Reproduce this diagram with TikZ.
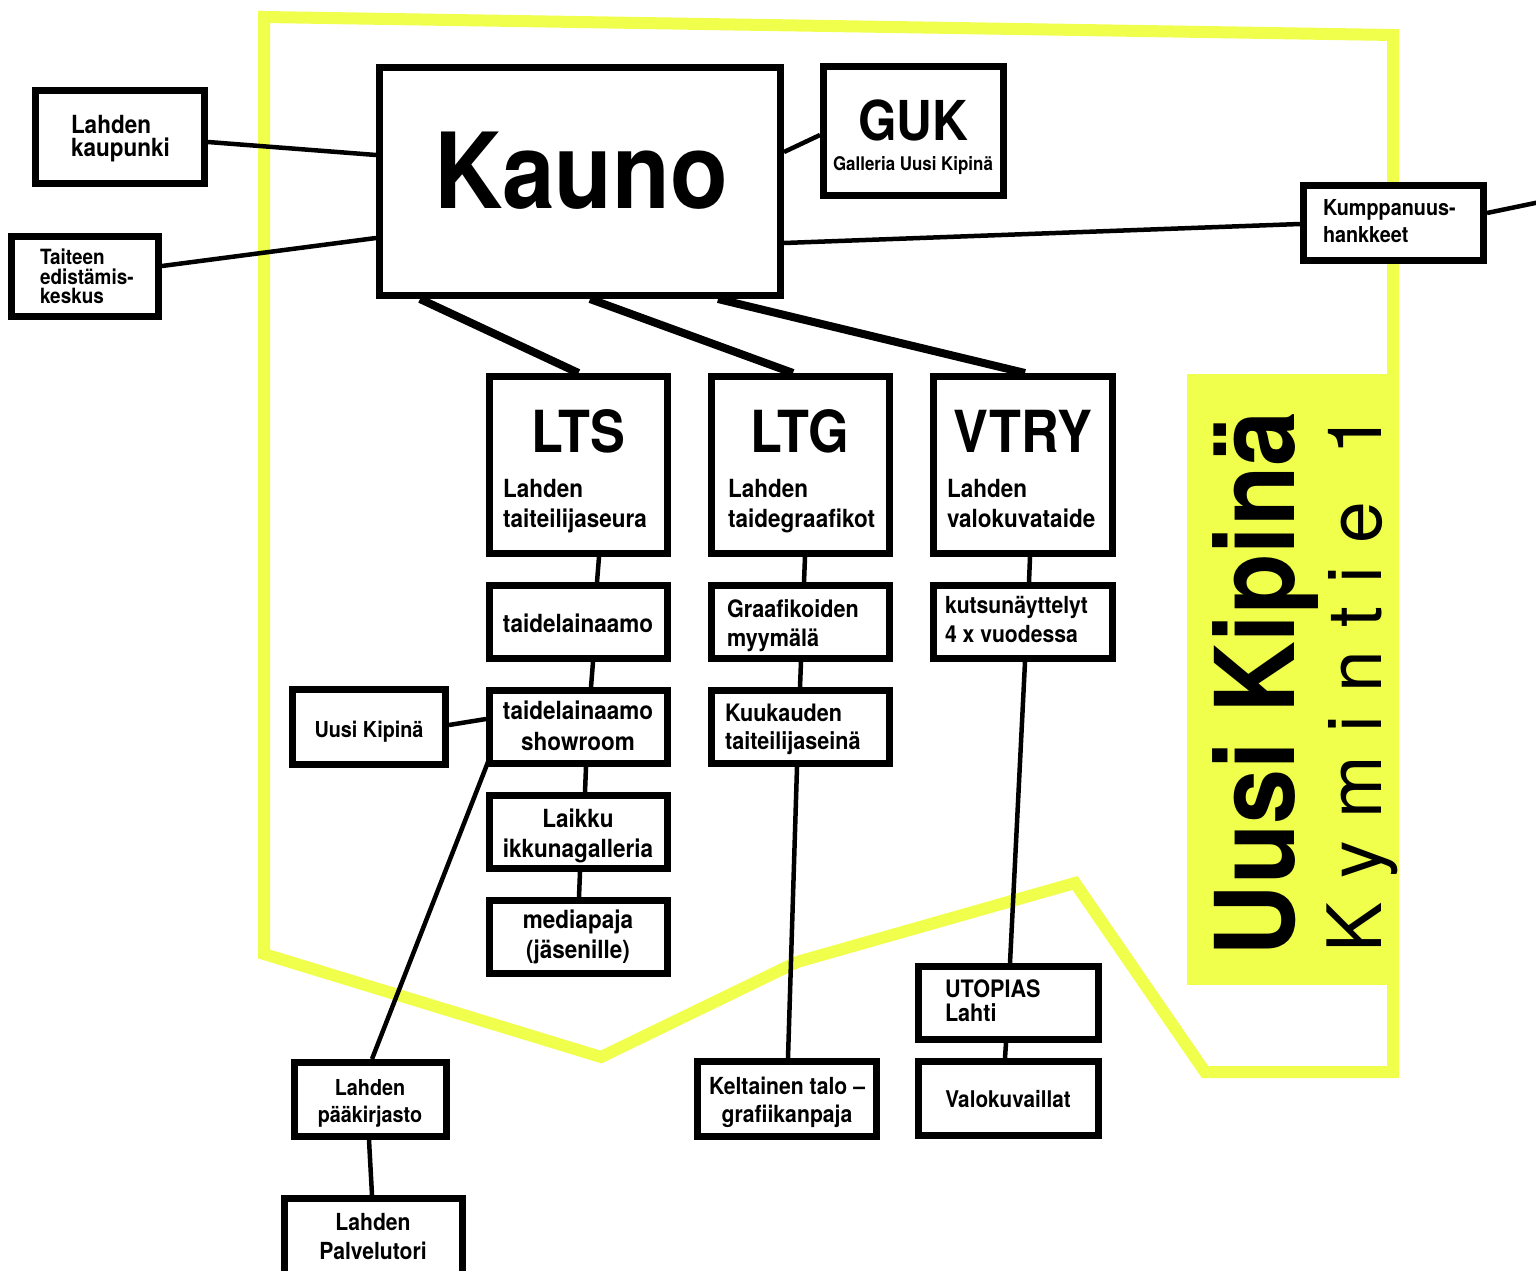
\documentclass[tikz,border=0pt]{standalone}
\usepackage{fontspec}
\setmainfont{TeX Gyre Heros}[FakeStretch=0.9]
\newfontfamily\hvreg{TeX Gyre Heros}
\usetikzlibrary{calc}
\definecolor{kyellow}{RGB}{240,255,75}
\newcommand\fsz[1]{\fontsize{#1}{#1}\selectfont\bfseries}
\pgfdeclarelayer{bg}
\pgfsetlayers{bg,main}
\tikzset{
  box/.style={draw=black, fill=white, line width=7pt, inner sep=0pt, rectangle},
  conn/.style={line width=4.5pt, draw=black},
  thickconn/.style={line width=8pt, draw=black},
  lbl/.style={inner sep=0pt, outer sep=0pt, text=black},
  zone/.style={draw=kyellow, line width=12pt, line join=miter},
}
\newcommand\bx[5]{\node[box, minimum width={#4-#2-7}, minimum height={#5-#3-7}] (#1) at ({(#2+#4)/2},{(#3+#5)/2}) {};}
\newcommand\txl[5]{\node[lbl, anchor=base west, font=\fsz{#4}] (#1) at (#2,#3) {#5};}
\newcommand\txc[5]{\node[lbl, anchor=base, font=\fsz{#4}] (#1) at (#2,#3) {#5};}
\begin{document}
\begin{tikzpicture}[x=1pt, y=-1pt]
\useasboundingbox (0,0) rectangle (1536,1271);

% yellow label block
\fill[kyellow] (1187,374) rectangle (1393,985);
\node[lbl, rotate=90, anchor=base west, font=\fsz{110}] (ukbig) at (1294,956) {Uusi Kipinä};
\node[lbl, rotate=90, anchor=base west, font=\hvreg\fontsize{75}{75}\selectfont] (kym) at (1381,952)
  {\hbox to 538pt{K\hfil y\hfil m\hfil i\hfil n\hfil t\hfil i\hfil e\hfil\hfil 1}};

% boxes
\bx{kaup}{32}{87}{208}{187}
\bx{tek}{8}{233}{162}{320}
\bx{kauno}{376}{64}{784}{299}
\bx{guk}{820}{63}{1007}{199}
\bx{kump}{1300}{182}{1487}{264}
\bx{lts}{486}{373}{671}{557}
\bx{ltg}{708}{373}{893}{557}
\bx{vtry}{930}{373}{1116}{557}
\bx{tlain}{486}{582}{671}{662}
\bx{show}{486}{687}{671}{767}
\bx{laik}{486}{792}{671}{872}
\bx{media}{486}{897}{671}{977}
\bx{graaf}{708}{582}{893}{662}
\bx{kuuk}{708}{687}{893}{767}
\bx{kuts}{930}{582}{1116}{662}
\bx{ukip}{289}{686}{449}{768}
\bx{paak}{291}{1059}{450}{1140}
\bx{palv}{281}{1195}{466}{1280}
\bx{kelt}{694}{1058}{880}{1140}
\bx{utop}{915}{963}{1102}{1043}
\bx{valo}{915}{1058}{1102}{1139}
\coordinate (kout) at (1540,202);

\begin{pgfonlayer}{bg}
  \draw[zone] (264,17) -- (1393,35) -- (1393,1072) -- (1205,1072) -- (1075,883)
     -- (797,962) -- (601,1057) -- (264,954) -- cycle;
  \draw[conn] ($(kaup.east)+(0,5)$) -- ($(kauno.west)+(0,-26.5)$);
  \draw[conn] ($(tek.east)+(0,-10.5)$) -- ($(kauno.west)+(0,56.5)$);
  \draw[conn] ($(kauno.east)+(0,-29.5)$) -- ($(guk.west)+(0,4)$);
  \draw[conn] ($(kauno.east)+(0,61.5)$) -- ($(kump.west)+(0,1)$);
  \draw[conn] ($(kump.east)+(0,-10)$) -- (kout);
  \draw[thickconn] ($(kauno.south)+(-160,0)$) -- (lts.north);
  \draw[thickconn] ($(kauno.south)+(10,0)$) -- ($(ltg.north)+(-7.5,0)$);
  \draw[thickconn] ($(kauno.south)+(138,0)$) -- ($(vtry.north)+(2,0)$);
  \draw[conn] ($(lts.south)+(20.5,0)$) -- ($(tlain.north)+(18.5,0)$);
  \draw[conn] ($(tlain.south)+(14.5,0)$) -- ($(show.north)+(12.5,0)$);
  \draw[conn] ($(show.south)+(7.5,0)$) -- ($(laik.north)+(6.5,0)$);
  \draw[conn] ($(laik.south)+(1.5,0)$) -- ($(media.north)+(0.5,0)$);
  \draw[conn] ($(ltg.south)+(4.5,0)$) -- ($(graaf.north)+(3.5,0)$);
  \draw[conn] ($(graaf.south)+(0.5,0)$) -- ($(kuuk.north)+(-0.5,0)$);
  \draw[conn] ($(kuuk.south)+(-3.5,0)$) -- ($(kelt.north)+(1,0)$);
  \draw[conn] ($(vtry.south)+(7,0)$) -- ($(kuts.north)+(6,0)$);
  \draw[conn] ($(kuts.south)+(2,0)$) -- ($(utop.north)+(1.5,0)$);
  \draw[conn] ($(utop.south)+(-2.5,0)$) -- ($(valo.north)+(-3.5,0)$);
  \draw[conn] ($(ukip.east)+(0,-2)$) -- ($(show.west)+(0,-8)$);
  \draw[conn] ($(show.south west)+(2,-5)$) -- ($(paak.north)+(1.5,0)$);
  \draw[conn] ($(paak.south)+(-1.5,0)$) -- ($(palv.north)+(-1.5,0)$);
\end{pgfonlayer}

% texts
\txl{kaupA}{71}{133}{25}{Lahden}
\txl{kaupB}{71}{157}{25}{kaupunki}
\txl{tekA}{40}{264}{21}{Taiteen}
\txl{tekB}{40}{284}{21}{edistämis-}
\txl{tekC}{40}{303}{21}{keskus}
\txc{kaunoT}{581}{208}{105}{Kauno}
\txc{gukT}{913}{140}{55}{GUK}
\txc{gukS}{913}{170}{18.8}{Galleria Uusi Kipinä}
\txl{kumpA}{1323}{215}{22}{Kumppanuus-}
\txl{kumpB}{1323}{242}{22}{hankkeet}

\txc{ltsT}{578}{452}{58}{LTS}
\txl{ltsA}{503}{497}{25}{Lahden}
\txl{ltsB}{503}{527}{25}{taiteilijaseura}
\txc{ltgT}{800}{452}{58}{LTG}
\txl{ltgA}{728}{497}{25}{Lahden}
\txl{ltgB}{728}{527}{25}{taidegraafikot}
\txc{vtryT}{1023}{452}{58}{VTRY}
\txl{vtryA}{947}{497}{25}{Lahden}
\txl{vtryB}{947}{527}{25}{valokuvataide}

\txc{tlainT}{578}{632}{25}{taidelainaamo}
\txc{showA}{578}{719}{25}{taidelainaamo}
\txc{showB}{578}{750}{25}{showroom}
\txc{laikA}{578}{827}{25}{Laikku}
\txc{laikB}{578}{857}{25}{ikkunagalleria}
\txc{mediaA}{578}{928}{25}{mediapaja}
\txc{mediaB}{578}{958}{25}{(jäsenille)}

\txl{graafA}{727}{617}{24}{Graafikoiden}
\txl{graafB}{727}{646}{24}{myymälä}
\txl{kuukA}{725}{721}{24}{Kuukauden}
\txl{kuukB}{725}{749}{24}{taiteilijaseinä}
\txl{kutsA}{945}{613}{23.5}{kutsunäyttelyt}
\txl{kutsB}{945}{642}{23.5}{4 x vuodessa}

\txc{ukipT}{369}{737}{22}{Uusi Kipinä}
\txl{utopA}{945}{997}{24}{UTOPIAS}
\txl{utopB}{945}{1021}{24}{Lahti}
\txc{valoT}{1008}{1107}{23}{Valokuvaillat}
\txc{paakA}{370}{1095}{22}{Lahden}
\txc{paakB}{370}{1122}{22}{pääkirjasto}
\txc{palvA}{373}{1230}{23.5}{Lahden}
\txc{palvB}{373}{1259}{23.5}{Palvelutori}
\txc{keltA}{787}{1094}{23.5}{Keltainen talo –}
\txc{keltB}{787}{1122}{23.5}{grafiikanpaja}
\end{tikzpicture}
\end{document}
